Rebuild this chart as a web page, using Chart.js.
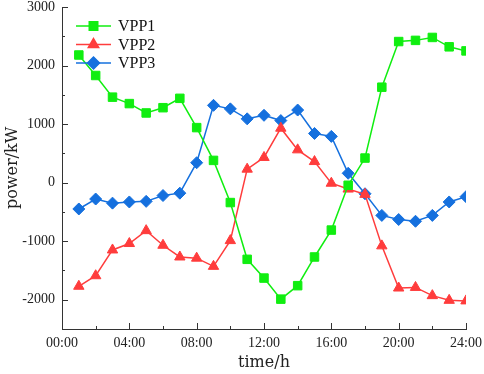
<!DOCTYPE html>
<html>
<head>
<meta charset="utf-8">
<script src="https://cdn.jsdelivr.net/npm/chart.js@4.4.1/dist/chart.umd.min.js"></script>
<style>
  html, body { margin: 0; padding: 0; background: #fff; }
</style>
</head>
<body>
<canvas id="powerChart" width="484" height="374"></canvas>
<script>
// hours of the day (x values)
const hours = [1, 2, 3, 4, 5, 6, 7, 8, 9, 10, 11, 12, 13, 14, 15, 16, 17, 18, 19, 20, 21, 22, 23, 24];

// power of each virtual power plant, kW
const vpp1 = [2180, 1830, 1460, 1350, 1190, 1280, 1440, 940, 380, -340, -1310, -1630,
  -1990, -1760, -1270, -810, -45, 420, 1630, 2410, 2430, 2480, 2320, 2250];
const vpp2 = [-1770, -1590, -1150, -1040, -820, -1070, -1270, -1290, -1430, -990, 230, 430,
  930, 560, 360, -10, -110, -200, -1080, -1800, -1790, -1930, -2010, -2020];
const vpp3 = [-450, -280, -350, -330, -320, -220, -180, 340, 1320, 1260, 1090, 1150,
  1060, 1240, 840, 790, 160, -190, -560, -630, -660, -560, -330, -240];

const seriesNames = ['VPP1', 'VPP2', 'VPP3'];
const xTickLabels = ['00:00', '04:00', '08:00', '12:00', '16:00', '20:00', '24:00'];
const yTickValues = [-2000, -1000, 0, 1000, 2000, 3000];

const tickFont = { family: 'Liberation Serif', size: 14 };

const toPoints = (values) => values.map((v, i) => ({ x: hours[i], y: v }));

// inward tick marks like the original plot
const innerTicks = {
  id: 'innerTicks',
  afterDraw(chart) {
    const { ctx, scales: { x, y }, chartArea } = chart;
    ctx.save();
    ctx.strokeStyle = '#333';
    ctx.lineWidth = 1;
    ctx.beginPath();
    for (let v = -2500; v <= 3000; v += 500) {
      const py = Math.round(y.getPixelForValue(v)) + 0.5;
      const len = v % 1000 === 0 ? 6 : 3;
      ctx.moveTo(chartArea.left, py);
      ctx.lineTo(chartArea.left + len, py);
    }
    for (let h = 0; h <= 24; h += 2) {
      const px = Math.round(x.getPixelForValue(h)) + 0.5;
      const len = h % 4 === 0 ? 6 : 3;
      ctx.moveTo(px, chartArea.bottom);
      ctx.lineTo(px, chartArea.bottom - len);
    }
    ctx.stroke();
    ctx.restore();
  }
};

// legend drawn inside the plot, top left
const insideLegend = {
  id: 'insideLegend',
  afterDatasetsDraw(chart) {
    const { ctx } = chart;
    ctx.save();
    chart.data.datasets.forEach((ds, i) => {
      const yy = 26 + i * 18.5;
      ctx.strokeStyle = ds.borderColor;
      ctx.lineWidth = ds.borderWidth;
      ctx.beginPath();
      ctx.moveTo(76, yy);
      ctx.lineTo(111, yy);
      ctx.stroke();
      ctx.fillStyle = ds.pointBackgroundColor;
      ctx.strokeStyle = ds.borderColor;
      Chart.helpers.drawPoint(ctx, {
        pointStyle: ds.pointStyle,
        radius: ds.pointRadius,
        borderWidth: 1,
        rotation: 0
      }, 93.5, yy);
      ctx.fillStyle = '#111';
      ctx.font = '16px "Liberation Serif"';
      ctx.textBaseline = 'middle';
      ctx.fillText(ds.label, 118, yy + 1);
    });
    ctx.restore();
  }
};

const colors = ['#10EE10', '#FF3C3C', '#1570DE'];
const styles = ['rect', 'triangle', 'rectRot'];
const allValues = [vpp1, vpp2, vpp3];

const datasets = allValues.map((values, i) => ({
  label: seriesNames[i],
  data: toPoints(values),
  borderColor: colors[i],
  backgroundColor: colors[i],
  pointBackgroundColor: colors[i],
  pointBorderColor: colors[i],
  pointStyle: styles[i],
  pointRadius: 6,
  pointBorderWidth: 1,
  borderWidth: 1.5,
  tension: 0
}));

new Chart(document.getElementById('powerChart'), {
  type: 'line',
  data: { datasets: datasets },
  plugins: [innerTicks, insideLegend],
  options: {
    responsive: false,
    animation: false,
    devicePixelRatio: 1,
    layout: { padding: { left: 0, right: 18, top: 6, bottom: 0 } },
    plugins: {
      legend: { display: false },
      tooltip: { enabled: false }
    },
    scales: {
      x: {
        type: 'linear',
        min: 0,
        max: 24,
        afterFit: (scale) => {
          scale.height = 45;
          scale.paddingLeft = 0;
          scale.paddingRight = 0;
        },
        afterBuildTicks: (scale) => {
          scale.ticks = xTickLabels.map((t, i) => ({ value: i * 4 }));
        },
        grid: { display: false, drawTicks: false },
        border: { display: true, color: '#333', width: 1 },
        ticks: {
          font: tickFont,
          color: '#222',
          padding: 6,
          maxRotation: 0,
          autoSkip: false,
          callback: (value, idx) => xTickLabels[idx]
        },
        title: {
          display: true,
          text: 'time/h',
          font: { family: 'DejaVu Serif', size: 16 },
          color: '#222',
          padding: { top: 0, bottom: 2 }
        }
      },
      y: {
        min: -2500,
        max: 3000,
        afterFit: (scale) => {
          scale.width = 62;
          scale.paddingTop = 0;
          scale.paddingBottom = 0;
        },
        afterBuildTicks: (scale) => {
          scale.ticks = yTickValues.map((v) => ({ value: v }));
        },
        grid: { display: false, drawTicks: false },
        border: { display: true, color: '#333', width: 1 },
        ticks: {
          font: tickFont,
          color: '#222',
          padding: 7,
          callback: (value) => String(value)
        },
        title: {
          display: true,
          text: 'power/kW',
          font: { family: 'DejaVu Serif', size: 16 },
          color: '#222',
          padding: { top: 3, bottom: 0 }
        }
      }
    }
  }
});
</script>
</body>
</html>
